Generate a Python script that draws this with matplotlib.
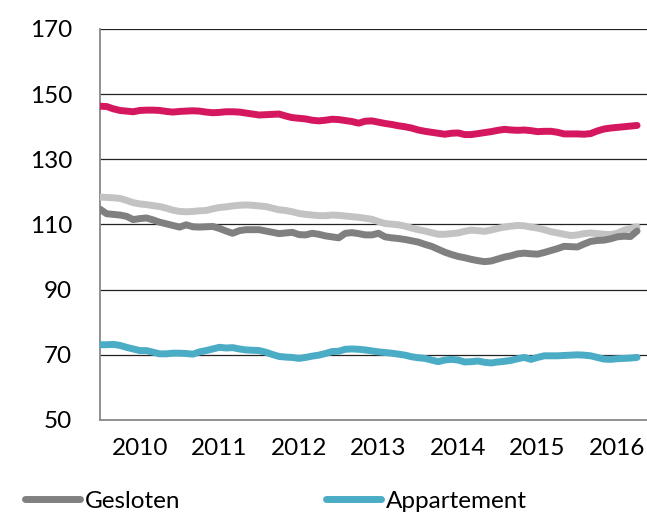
import numpy as np
import matplotlib.pyplot as plt

plt.rcParams['font.family'] = ['Lato', 'DejaVu Sans']

# monthly index values, mid 2009 .. early 2016
pink = [146.3, 146.2, 145.5, 145.0, 144.8, 144.6, 145.0, 145.1, 145.1, 145.0,
        144.7, 144.5, 144.7, 144.8, 144.9, 144.8, 144.5, 144.3, 144.4, 144.6,
        144.6, 144.5, 144.2, 143.9, 143.6, 143.7, 143.8, 143.9, 143.3, 142.8,
        142.6, 142.4, 142.0, 141.8, 142.0, 142.3, 142.2, 141.9, 141.6, 141.1,
        141.7, 141.8, 141.4, 141.0, 140.7, 140.3, 140.0, 139.6, 139.0, 138.6,
        138.3, 138.0, 137.7, 138.0, 138.1, 137.6, 137.6, 137.9, 138.2, 138.5,
        138.9, 139.2, 139.0, 138.9, 139.0, 138.8, 138.5, 138.6, 138.6, 138.3,
        137.8, 137.8, 137.8, 137.7, 137.9, 138.7, 139.3, 139.6, 139.8, 140.0,
        140.2, 140.4]
light = [118.4, 118.3, 118.2, 118.0, 117.4, 116.7, 116.3, 116.1, 115.8, 115.5,
         115.0, 114.4, 114.0, 113.9, 114.0, 114.2, 114.3, 114.8, 115.2, 115.4,
         115.7, 115.9, 116.0, 115.9, 115.7, 115.5, 115.0, 114.5, 114.3, 113.9,
         113.4, 113.1, 112.9, 112.7, 112.7, 112.9, 112.8, 112.6, 112.4, 112.2,
         111.9, 111.6, 110.9, 110.3, 110.1, 109.9, 109.5, 108.9, 108.4, 108.0,
         107.5, 107.0, 107.0, 107.2, 107.4, 107.9, 108.3, 108.1, 107.9, 108.3,
         108.8, 109.2, 109.5, 109.7, 109.6, 109.2, 108.9, 108.4, 107.8, 107.4,
         107.0, 106.6, 106.8, 107.2, 107.4, 107.2, 107.0, 106.9, 107.3, 108.2,
         108.8, 109.3]
gesloten = [114.7, 113.3, 113.1, 112.9, 112.5, 111.5, 111.8, 112.0, 111.4, 110.7,
            110.2, 109.7, 109.2, 109.9, 109.3, 109.2, 109.3, 109.4, 108.8, 108.0,
            107.3, 108.1, 108.4, 108.4, 108.4, 108.0, 107.6, 107.2, 107.4, 107.6,
            106.9, 106.8, 107.3, 107.0, 106.5, 106.2, 105.9, 107.3, 107.5, 107.2,
            106.8, 106.8, 107.3, 106.2, 105.9, 105.7, 105.4, 105.0, 104.6, 103.9,
            103.3, 102.4, 101.5, 100.8, 100.2, 99.8, 99.3, 98.9, 98.6, 98.8,
            99.4, 100.0, 100.4, 101.0, 101.2, 101.0, 100.9, 101.4, 102.0, 102.6,
            103.3, 103.2, 103.1, 104.0, 104.8, 105.1, 105.2, 105.6, 106.2, 106.4,
            106.3, 108.0]
appartement = [73.1, 73.1, 73.2, 72.9, 72.3, 71.8, 71.3, 71.3, 70.8, 70.3,
               70.3, 70.5, 70.5, 70.4, 70.2, 70.9, 71.3, 71.8, 72.3, 72.1,
               72.2, 71.8, 71.5, 71.4, 71.3, 70.8, 70.1, 69.5, 69.3, 69.2,
               68.9, 69.2, 69.6, 69.9, 70.4, 71.0, 71.1, 71.7, 71.8, 71.7,
               71.5, 71.2, 70.9, 70.7, 70.5, 70.2, 69.9, 69.4, 69.1, 68.9,
               68.4, 67.9, 68.4, 68.6, 68.4, 67.8, 67.9, 68.1, 67.7, 67.5,
               67.8, 68.0, 68.3, 68.8, 69.2, 68.6, 69.2, 69.7, 69.7, 69.7,
               69.8, 69.9, 70.0, 69.9, 69.7, 69.2, 68.7, 68.6, 68.8, 68.9,
               69.0, 69.2]
years = ['2010', '2011', '2012', '2013', '2014', '2015', '2016']

t = np.arange(len(pink))

fig = plt.figure(figsize=(6.47, 5.15), dpi=100)
ax = fig.add_axes([0.1546, 0.1845, 0.8454, 0.7592])

ax.set_ylim(50, 170)
ax.set_xlim(0, 82.5)
ax.set_yticks(range(50, 171, 20))
for y in range(70, 171, 20):
    ax.axhline(y, color='#222222', lw=0.9, zorder=1)

ax.plot(t, pink, color='#D5175F', lw=5, solid_capstyle='round', zorder=3)
ax.plot(t, light, color='#C3C3C3', lw=5, solid_capstyle='round', zorder=3)
ax.plot(t, gesloten, color='#808080', lw=5, solid_capstyle='round', zorder=3, label='Gesloten')
ax.plot(t, appartement, color='#4BACC6', lw=5, solid_capstyle='round', zorder=3, label='Appartement')

ax.set_xticks(np.arange(len(years)) * 12 + 6)
ax.set_xticklabels(years)

for s in ['top', 'right']:
    ax.spines[s].set_visible(False)
for s in ['left', 'bottom']:
    ax.spines[s].set_color('#888888')
    ax.spines[s].set_linewidth(1.3)
ax.tick_params(axis='both', length=0, labelsize=17.5)
ax.tick_params(axis='y', pad=20)
ax.tick_params(axis='x', pad=13)

fig.legend(loc='center left', bbox_to_anchor=(0.005, 0.027), ncol=2, frameon=False,
           fontsize=17.5, handlelength=2.26, handletextpad=0.2, columnspacing=6.0)

fig.savefig('out.png', dpi=100)
